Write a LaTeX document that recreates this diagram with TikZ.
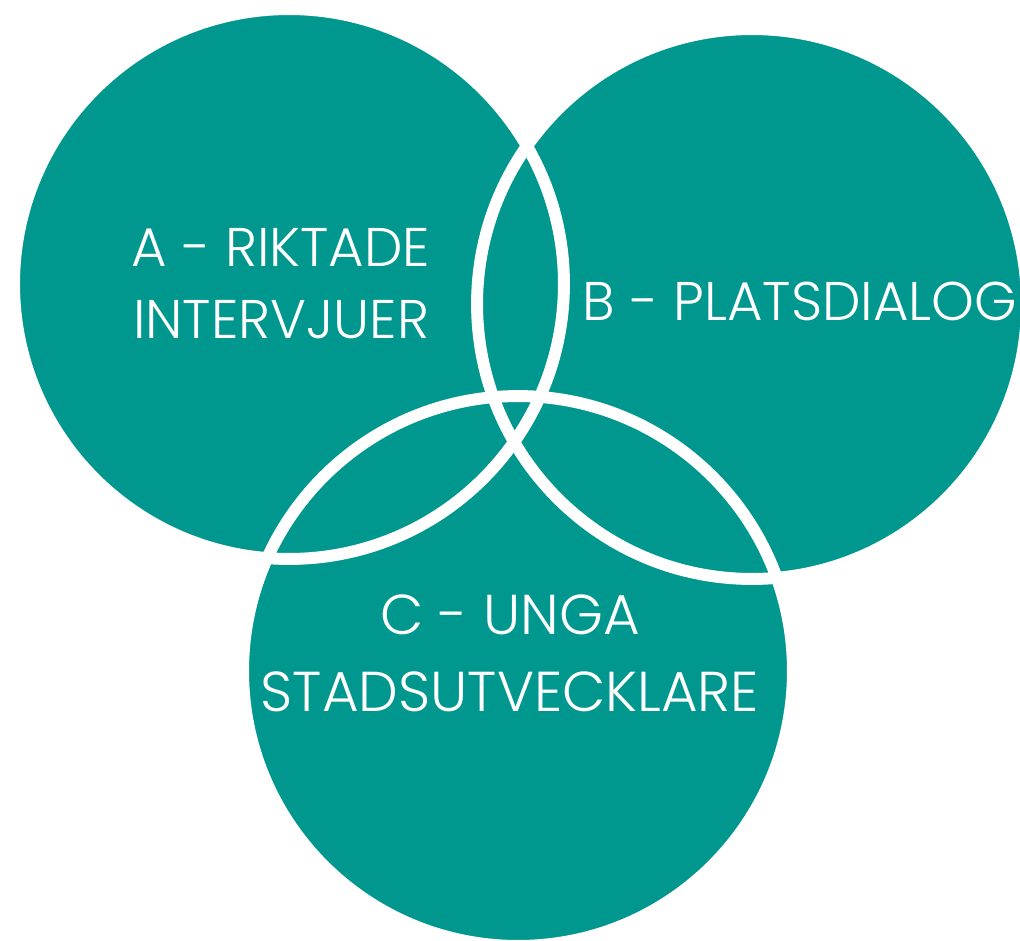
\documentclass[tikz,border=0pt]{standalone}
\usepackage{fontspec}
\usepackage{xcolor}
\usetikzlibrary{positioning}
\newfontfamily\labelfont{Poppins Light}
\definecolor{vennteal}{RGB}{0,151,143}

\begin{document}
\begin{tikzpicture}[x=0.02cm, y=-0.02cm,
  lobe/.style={circle, fill=vennteal, minimum size=11cm, inner sep=0pt, outer sep=0pt},
  rim/.style={circle, draw=white, line width=6.8pt, minimum size=11cm, inner sep=0pt, outer sep=0pt},
  caption/.style={text=white, align=center, inner sep=0pt, font=\labelfont\fontsize{31}{41}\selectfont}]
\useasboundingbox (0,0) rectangle (1020,940);

% the three circles, filled first
\node[lobe] (lobeA) at (289,284) {};
\node[lobe] (lobeB) at (752,304) {};
\node[lobe] (lobeC) at (518,671) {};
% white outlines on top of all fills
\foreach \n in {A,B,C}
  \node[rim] (rim\n) at (lobe\n) {};

\node[caption] (textA) at (281,284) {A - RIKTADE\\INTERVJUER};
\node[caption] (textB) at (800,301) {B - PLATSDIALOG};
\node[caption, font=\labelfont\fontsize{32}{44}\selectfont] (textC) at (510,653) {C - UNGA\\STADSUTVECKLARE};
\end{tikzpicture}
\end{document}
